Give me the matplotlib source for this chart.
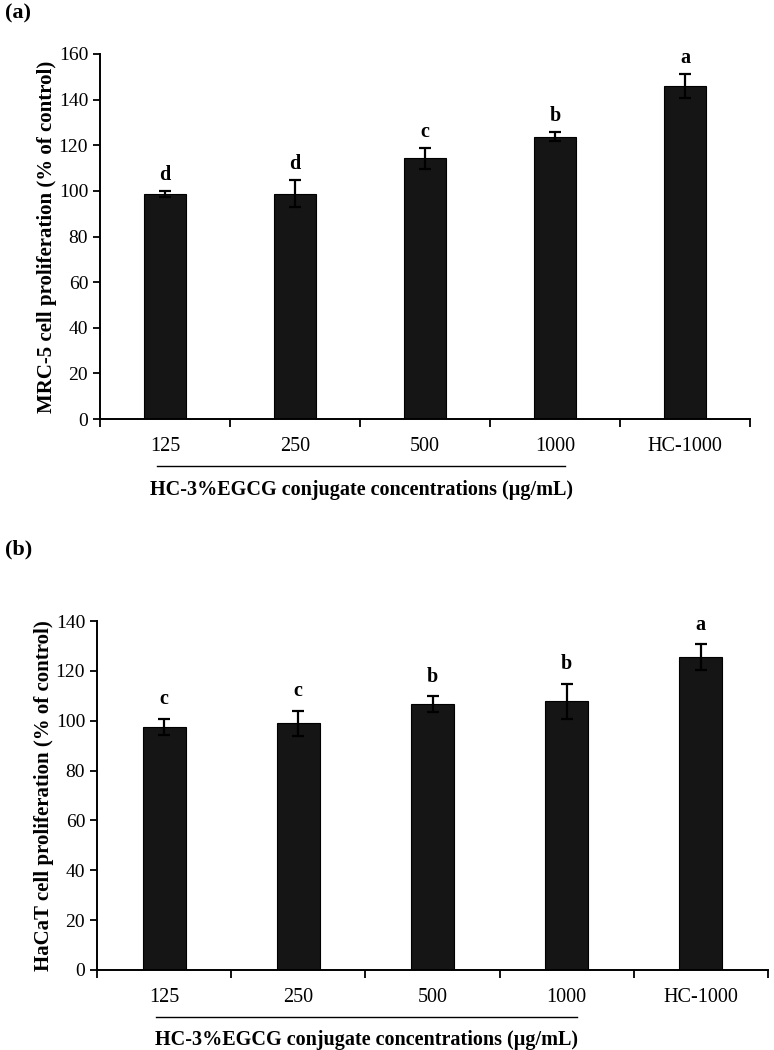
import numpy as np
import matplotlib.pyplot as plt
from matplotlib.transforms import blended_transform_factory

plt.rcParams['font.family'] = ['Liberation Serif', 'DejaVu Serif']

categories = ['125', '250', '500', '1000', 'HC-1000']

# (a) MRC-5
mrc_mean = [98.8, 98.8, 114.3, 123.8, 146.0]
mrc_err = [1.3, 6.0, 4.5, 2.0, 5.2]
mrc_letters = ['d', 'd', 'c', 'b', 'a']

# (b) HaCaT
hacat_mean = [97.6, 99.0, 106.6, 107.8, 125.4]
hacat_err = [3.2, 5.0, 3.2, 7.0, 5.2]
hacat_letters = ['c', 'c', 'b', 'b', 'a']

W, H = 774, 1050
fig = plt.figure(figsize=(W / 100, H / 100), dpi=100)


def panel(box, means, errs, letters, ymax, ylabel, letter_off, line_y, xlab_y):
    left, top, right, bottom = box
    ax = fig.add_axes([left / W, 1 - bottom / H, (right - left) / W, (bottom - top) / H])
    x = np.arange(len(categories))
    ax.bar(x, means, width=0.32, color='#151515', edgecolor='black', linewidth=0.8,
           yerr=errs, capsize=4.5, error_kw=dict(elinewidth=1.6, capthick=1.6, ecolor='black'))
    for xi, m, e, t in zip(x, means, errs, letters):
        ax.annotate(t, (xi, m + e), xytext=(0, letter_off), textcoords='offset points',
                    ha='center', va='center', fontsize=14.5, fontweight='bold')
    ax.set_xlim(-0.5, 4.5)
    ax.set_ylim(0, ymax)
    ax.set_yticks(np.arange(0, ymax + 1, 20))
    ax.set_xticks(np.arange(-0.5, 5, 1))
    ax.set_xticklabels([])
    ax.set_xticks(x, minor=True)
    ax.set_xticklabels(categories, minor=True)
    ax.tick_params(axis='x', which='minor', length=0, pad=13, labelsize=14.5)
    ax.tick_params(axis='x', which='major', direction='out', length=6, width=1.3)
    ax.tick_params(axis='y', direction='out', length=5, width=1.3, labelsize=14)
    for s in ['top', 'right']:
        ax.spines[s].set_visible(False)
    for s in ['left', 'bottom']:
        ax.spines[s].set_linewidth(1.4)
    ax.set_ylabel(ylabel, fontsize=15, fontweight='bold', labelpad=1)
    tr = blended_transform_factory(ax.transData, ax.transAxes)
    ax.plot([-0.06, 3.08], [line_y, line_y], color='black', lw=1.0, transform=tr, clip_on=False)
    ax.text(1.51, xlab_y, 'HC-3%EGCG conjugate concentrations (µg/mL)', transform=tr,
            ha='center', va='center', fontsize=14.5, fontweight='bold')
    return ax


panel((100, 54, 750, 419), mrc_mean, mrc_err, mrc_letters, 160,
      'MRC-5 cell proliferation (% of control)', 11.5, -0.129, -0.195)
panel((97, 621, 768, 970), hacat_mean, hacat_err, hacat_letters, 140,
      'HaCaT cell proliferation (% of control)', 14, -0.135, -0.201)

fig.text(5 / W, 1 - 13 / H, '(a)', fontsize=16, fontweight='bold', va='center')
fig.text(5 / W, 1 - 549 / H, '(b)', fontsize=16, fontweight='bold', va='center')

fig.savefig('out.png', dpi=100)
